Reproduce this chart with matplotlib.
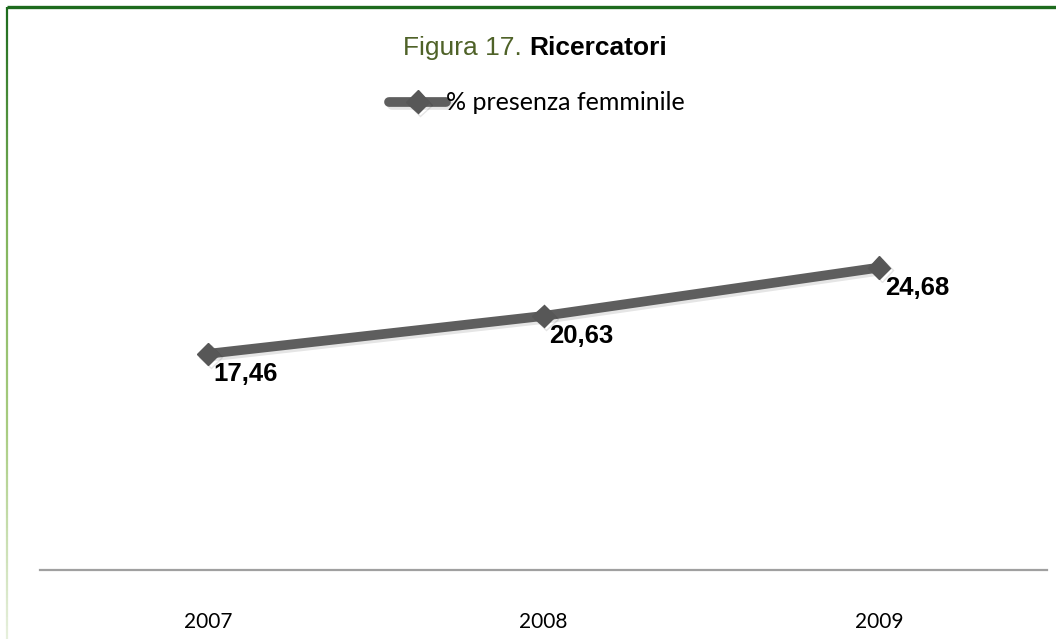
import matplotlib
matplotlib.use('Agg')
import matplotlib.pyplot as plt
import matplotlib.patheffects as pe
import numpy as np
from matplotlib.collections import LineCollection
from matplotlib.colors import LinearSegmentedColormap

anni = ['2007', '2008', '2009']
presenza = [17.46, 20.63, 24.68]
etichette = ['17,46', '20,63', '24,68']
serie = '% presenza femminile'

fig = plt.figure(figsize=(10.56, 6.39), dpi=100)
W, H = 1056.0, 639.0

# cornice: linea verde in alto, sfumata a sinistra
bg = fig.add_axes([0, 0, 1, 1], zorder=0)
bg.set_xlim(0, W); bg.set_ylim(H, 0); bg.axis('off')
bg.plot([7, W], [7, 7], color='#1d6b1d', lw=2.4, solid_capstyle='butt')
ys = np.linspace(7, H, 200)
segs = [[(7, ys[i]), (7, ys[i + 1])] for i in range(len(ys) - 1)]
cmap = LinearSegmentedColormap.from_list('g', ['#1d6b1d', '#7fb35a', '#a8cc80', '#e6efdc'])
lc = LineCollection(segs, cmap=cmap, linewidths=1.6)
lc.set_array(np.linspace(0, 1, len(segs)))
bg.add_collection(lc)

ax = fig.add_axes([40 / W, (H - 570) / H, (1047 - 40) / W, (570 - 204) / H], zorder=1)
ax.patch.set_alpha(0)
x = np.arange(len(anni))
ax.plot(x, presenza, color='#5e5e5e', lw=7, marker='D', markersize=11.5,
        markerfacecolor='#575757', markeredgecolor='#575757', solid_capstyle='round',
        label=serie,
        path_effects=[pe.SimpleLineShadow(offset=(2, -2), alpha=0.1), pe.Normal()])
ax.set_xlim(-0.5, 2.5)
ax.set_ylim(-0.63, 30.0)
for s in ['top', 'right', 'left']:
    ax.spines[s].set_visible(False)
ax.spines['bottom'].set_color('#a0a0a0')
ax.spines['bottom'].set_linewidth(1.6)
ax.set_yticks([])
ax.set_xticks(x)
ax.set_xticklabels(anni, fontsize=15, fontfamily='Lato', color='black')
ax.tick_params(axis='x', length=0, pad=30)

for xi, yi, lab in zip(x, presenza, etichette):
    ax.annotate(lab, (xi, yi), xytext=(4, -14.5), textcoords='offset points',
                ha='left', va='center', fontsize=18.5, fontweight='bold',
                fontfamily='Liberation Sans', color='black')

leg = ax.legend(loc='center', bbox_to_anchor=(537 / W, 1 - 103 / H),
                bbox_transform=fig.transFigure, frameon=False,
                prop={'family': 'Lato', 'size': 18}, handlelength=2.3,
                handletextpad=0.0, borderaxespad=0)

# titolo in due stili, centrato
t1 = fig.text(403 / W, 1 - 48 / H, 'Figura 17. ', fontsize=19, color='#4f6228',
              fontfamily='Liberation Sans', ha='left', va='center')
t2 = fig.text(0.5, 1 - 48 / H, 'Ricercatori', fontsize=19, fontweight='bold',
              fontfamily='Liberation Sans', color='black', ha='left', va='center')
fig.canvas.draw()
r = fig.canvas.get_renderer()
w1 = t1.get_window_extent(r).width
w2 = t2.get_window_extent(r).width
left = 535 - (w1 + w2) / 2
t1.set_x(left / W)
t2.set_x((left + w1) / W)

fig.savefig('out.png', dpi=100)
